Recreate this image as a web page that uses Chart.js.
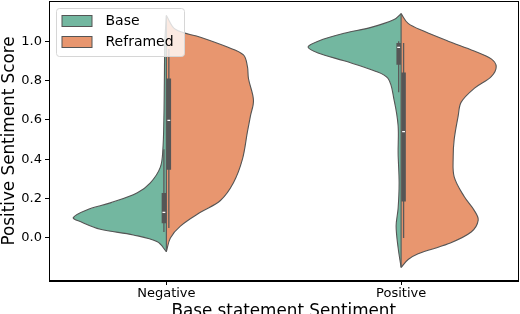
<!DOCTYPE html>
<html>
<head>
<meta charset="utf-8">
<script src="https://cdn.jsdelivr.net/npm/chart.js@4.4.0/dist/chart.umd.min.js"></script>
<style>
  html, body { margin: 0; padding: 0; background: #fff; }
</style>
</head>
<body>
<canvas id="grafico" width="520" height="314"></canvas>
<script>
const categories = ["Negative", "Positive"];
const seriesNames = ["Base", "Reframed"];
const yTicks = [0, 0.2, 0.4, 0.6, 0.8, 1.0];

// density profiles (score -> relative half width)
const negBaseScore = [-0.07, -0.02, 0.015, 0.044, 0.083, 0.103, 0.143, 0.178, 0.23, 0.28, 0.36, 0.45, 0.6, 0.8, 1.0, 1.13];
const negBaseDensity = [0, 0.09, 0.33, 0.66, 0.86, 0.93, 0.79, 0.56, 0.29, 0.16, 0.06, 0.035, 0.025, 0.02, 0.015, 0];
const negRefScore = [-0.07, 0.0, 0.06, 0.13, 0.19, 0.28, 0.4, 0.54, 0.62, 0.7, 0.81, 0.87, 0.93, 0.97, 1.02, 1.06, 1.13];
const negRefDensity = [0, 0.04, 0.14, 0.34, 0.54, 0.67, 0.76, 0.81, 0.84, 0.87, 0.82, 0.81, 0.77, 0.61, 0.34, 0.09, 0];
const posBaseScore = [-0.15, -0.05, 0.06, 0.15, 0.28, 0.43, 0.57, 0.7, 0.81, 0.85, 0.9, 0.94, 0.97, 1.0, 1.04, 1.07, 1.11, 1.14];
const posBaseDensity = [0, 0.03, 0.05, 0.03, 0.02, 0.03, 0.03, 0.07, 0.13, 0.27, 0.57, 0.83, 0.93, 0.83, 0.57, 0.3, 0.07, 0];
const posRefScore = [-0.15, -0.11, -0.08, -0.03, 0.03, 0.09, 0.14, 0.21, 0.31, 0.41, 0.5, 0.62, 0.69, 0.76, 0.82, 0.87, 0.91, 0.95, 1.0, 1.05, 1.09, 1.14];
const posRefDensity = [0, 0.07, 0.17, 0.47, 0.7, 0.77, 0.73, 0.63, 0.53, 0.52, 0.53, 0.57, 0.6, 0.73, 0.9, 0.95, 0.9, 0.73, 0.47, 0.23, 0.07, 0];

// inner box stats, one value per category
const baseQ1 = [0.075, 0.88];
const baseMedian = [0.13, 0.968];
const baseQ3 = [0.228, 0.99];
const baseLow = [0.03, 0.74];
const baseHigh = [0.45, 1.0];
const refQ1 = [0.347, 0.185];
const refMedian = [0.597, 0.54];
const refQ3 = [0.81, 0.84];
const refLow = [0.05, 0.0];
const refHigh = [0.96, 0.99];

const colores = { Base: "#73b7a0", Reframed: "#e8966f" };
const borde = "#555555";
const escalaAncho = 0.4264;
const desplazCaja = 0.0105;

const perfiles = {
  Base: [[negBaseScore, negBaseDensity], [posBaseScore, posBaseDensity]],
  Reframed: [[negRefScore, negRefDensity], [posRefScore, posRefDensity]],
};
const cajas = {
  Base: { q1: baseQ1, med: baseMedian, q3: baseQ3, lo: baseLow, hi: baseHigh },
  Reframed: { q1: refQ1, med: refMedian, q3: refQ3, lo: refLow, hi: refHigh },
};

function linea(data, color, ancho, orden, extra) {
  return Object.assign({
    data, showLine: true, pointRadius: 0, pointHoverRadius: 0,
    borderColor: color, borderWidth: ancho, fill: false, order: orden,
  }, extra || {});
}

const datasets = [];
categories.forEach((cat, i) => {
  seriesNames.forEach((nombre) => {
    const lado = nombre === "Base" ? -1 : 1;
    const [scores, dens] = perfiles[nombre][i];
    const puntos = scores.map((s, k) => ({ x: i + lado * dens[k] * escalaAncho, y: s }));
    datasets.push(linea(puntos, borde, 1.1, 5, {
      label: nombre, backgroundColor: colores[nombre], fill: "shape", tension: 0.35,
    }));
  });
  const todos = perfiles.Base[i][0].concat(perfiles.Reframed[i][0]);
  datasets.push(linea([{ x: i, y: Math.min(...todos) }, { x: i, y: Math.max(...todos) }], borde, 1.1, 4));

  seriesNames.forEach((nombre) => {
    const c = cajas[nombre];
    const xc = i + (nombre === "Base" ? -1 : 1) * desplazCaja;
    datasets.push(linea([{ x: xc, y: c.lo[i] }, { x: xc, y: c.hi[i] }], "#5a5a5a", 1.3, 3));
    datasets.push(linea([{ x: xc, y: c.q1[i] }, { x: xc, y: c.q3[i] }], "#565656", 4.5, 2));
    datasets.push(linea([{ x: xc - 0.006, y: c.med[i] }, { x: xc + 0.006, y: c.med[i] }], "#ffffff", 1.2, 1));
  });
});

const marcoYLeyenda = {
  id: "marcoYLeyenda",
  afterDraw(chart) {
    const { ctx, chartArea: a } = chart;
    ctx.save();
    ctx.strokeStyle = "#000";
    ctx.lineWidth = 1;
    ctx.strokeRect(Math.round(a.left) + 0.5, Math.round(a.top) + 0.5,
      Math.round(a.right - a.left) - 1, Math.round(a.bottom - a.top) - 1);

    const bx = a.left + 7.5, by = a.top + 7.5, bw = 128, bh = 48;
    ctx.beginPath();
    ctx.roundRect(bx, by, bw, bh, 3);
    ctx.fillStyle = "rgba(255,255,255,0.8)";
    ctx.fill();
    ctx.strokeStyle = "#d6d6d6";
    ctx.stroke();

    ctx.font = "14px 'DejaVu Sans'";
    ctx.textBaseline = "middle";
    seriesNames.forEach((nombre, k) => {
      const py = by + 7 + k * 21;
      ctx.fillStyle = colores[nombre];
      ctx.fillRect(bx + 5.5, py, 30, 11);
      ctx.strokeStyle = borde;
      ctx.lineWidth = 1;
      ctx.strokeRect(bx + 5.5, py, 30, 11);
      ctx.fillStyle = "#000";
      ctx.fillText(nombre, bx + 49, py + 5.5);
    });
    ctx.restore();
  },
};

const fuente = "'DejaVu Sans'";
new Chart(document.getElementById("grafico").getContext("2d"), {
  type: "scatter",
  data: { datasets },
  plugins: [marcoYLeyenda],
  options: {
    responsive: false,
    animation: false,
    events: [],
    layout: { padding: { top: 1, right: 1.5, left: 0, bottom: 0 } },
    plugins: { legend: { display: false }, tooltip: { enabled: false } },
    scales: {
      x: {
        type: "linear",
        min: -0.5,
        max: 1.5,
        afterBuildTicks: (s) => { s.ticks = categories.map((c, i) => ({ value: i })); },
        afterFit: (s) => { s.height = 33; s.paddingLeft = 0; s.paddingRight = 0; },
        ticks: {
          callback: (v) => categories[v],
          color: "#000",
          font: { family: fuente, size: 13 },
          padding: 1,
          maxRotation: 0,
          autoSkip: false,
        },
        grid: { drawOnChartArea: false, tickLength: 4, tickColor: "#000" },
        border: { color: "#000", width: 1 },
        title: {
          display: true,
          text: "Base statement Sentiment",
          color: "#000",
          font: { family: fuente, size: 16.8 },
          padding: { top: 0, bottom: -8 },
        },
      },
      y: {
        min: -0.219,
        max: 1.204,
        afterBuildTicks: (s) => { s.ticks = yTicks.map((v) => ({ value: v })); },
        afterFit: (s) => { s.width = 49; s.paddingTop = 0; s.paddingBottom = 0; },
        ticks: {
          callback: (v) => v.toFixed(1),
          color: "#000",
          font: { family: fuente, size: 13 },
          padding: 3,
        },
        grid: { drawOnChartArea: false, tickLength: 4, tickColor: "#000" },
        border: { color: "#000", width: 1 },
        title: {
          display: true,
          text: "Positive Sentiment Score",
          color: "#000",
          font: { family: fuente, size: 16.8 },
          padding: 0,
        },
      },
    },
  },
});
</script>
</body>
</html>
